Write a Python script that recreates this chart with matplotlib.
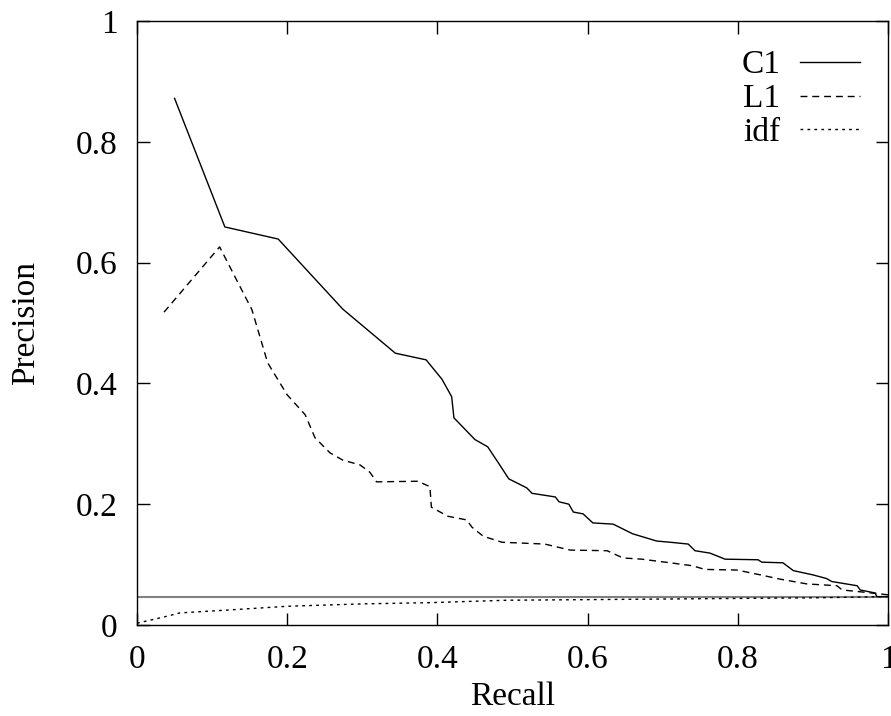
import matplotlib
matplotlib.use('Agg')
import matplotlib.pyplot as plt
from matplotlib.ticker import FuncFormatter

# precision / recall curves
c1_recall = [0.050, 0.117, 0.188, 0.274, 0.344, 0.385, 0.406, 0.419, 0.422, 0.450,
             0.467, 0.483, 0.495, 0.519, 0.526, 0.557, 0.562, 0.575, 0.581, 0.594,
             0.607, 0.634, 0.660, 0.692, 0.710, 0.734, 0.743, 0.763, 0.783, 0.827,
             0.832, 0.860, 0.874, 0.900, 0.918, 0.925, 0.959, 0.963, 0.983, 0.985, 1.0]
c1_prec = [0.872, 0.659, 0.639, 0.523, 0.450, 0.439, 0.407, 0.378, 0.343, 0.307,
           0.295, 0.265, 0.242, 0.227, 0.218, 0.212, 0.204, 0.200, 0.187, 0.184,
           0.169, 0.167, 0.151, 0.139, 0.137, 0.134, 0.123, 0.119, 0.109, 0.108,
           0.104, 0.103, 0.090, 0.083, 0.077, 0.072, 0.065, 0.058, 0.053, 0.047, 0.047]

l1_recall = [0.036, 0.110, 0.153, 0.174, 0.200, 0.224, 0.237, 0.257, 0.274, 0.297,
             0.310, 0.319, 0.374, 0.390, 0.392, 0.414, 0.439, 0.446, 0.461, 0.486,
             0.543, 0.577, 0.626, 0.647, 0.672, 0.710, 0.740, 0.756, 0.799, 0.830,
             0.856, 0.892, 0.932, 0.939, 0.963, 1.0]
l1_prec = [0.518, 0.626, 0.522, 0.434, 0.381, 0.348, 0.310, 0.285, 0.273, 0.265,
           0.253, 0.237, 0.238, 0.229, 0.195, 0.180, 0.174, 0.162, 0.147, 0.137,
           0.134, 0.124, 0.123, 0.111, 0.109, 0.103, 0.098, 0.092, 0.091, 0.083,
           0.076, 0.068, 0.065, 0.058, 0.055, 0.050]

idf_recall = [0.0, 0.035, 0.057, 0.124, 0.2, 0.301, 0.39, 0.493, 0.6, 0.7, 0.8, 0.9, 1.0]
idf_prec = [0.003, 0.013, 0.020, 0.025, 0.031, 0.035, 0.037, 0.041, 0.042, 0.043, 0.044, 0.045, 0.047]

baseline = 0.047
ticks = [0, 0.2, 0.4, 0.6, 0.8, 1.0]

plt.rcParams['font.family'] = ['Liberation Serif', 'DejaVu Serif']
fs = 24

fig = plt.figure(figsize=(8.91, 7.16), dpi=100)
ax = fig.add_axes([137 / 891, 91 / 716, 751 / 891, 604 / 716])

ax.axhline(baseline, color='#808080', lw=1.5)
ax.plot(c1_recall, c1_prec, color='black', lw=1.0, label='C1')
ax.plot(l1_recall, l1_prec, color='black', lw=1.0, dashes=(5, 3.5), label='L1')
ax.plot(idf_recall, idf_prec, color='black', lw=1.0, dashes=(2, 3), label='idf')

ax.set_xlim(0, 1)
ax.set_ylim(0, 1)
ax.set_xticks(ticks)
ax.set_yticks(ticks)
fmt = FuncFormatter(lambda v, p: '%g' % v)
ax.xaxis.set_major_formatter(fmt)
ax.yaxis.set_major_formatter(fmt)
ax.tick_params(direction='in', top=True, right=True, length=9, width=1,
               labelsize=fs, pad=14)
for s in ax.spines.values():
    s.set_linewidth(1.0)

ax.set_xlabel('Recall', fontsize=fs, labelpad=5)
ax.set_ylabel('Precision', fontsize=fs, labelpad=25)

ax.legend(loc='upper right', bbox_to_anchor=(0.963, 0.952), frameon=False,
          markerfirst=False, fontsize=fs, handlelength=1.8, handletextpad=0.6,
          labelspacing=0.1, borderaxespad=0, borderpad=0)

fig.savefig('out.png', dpi=100)
